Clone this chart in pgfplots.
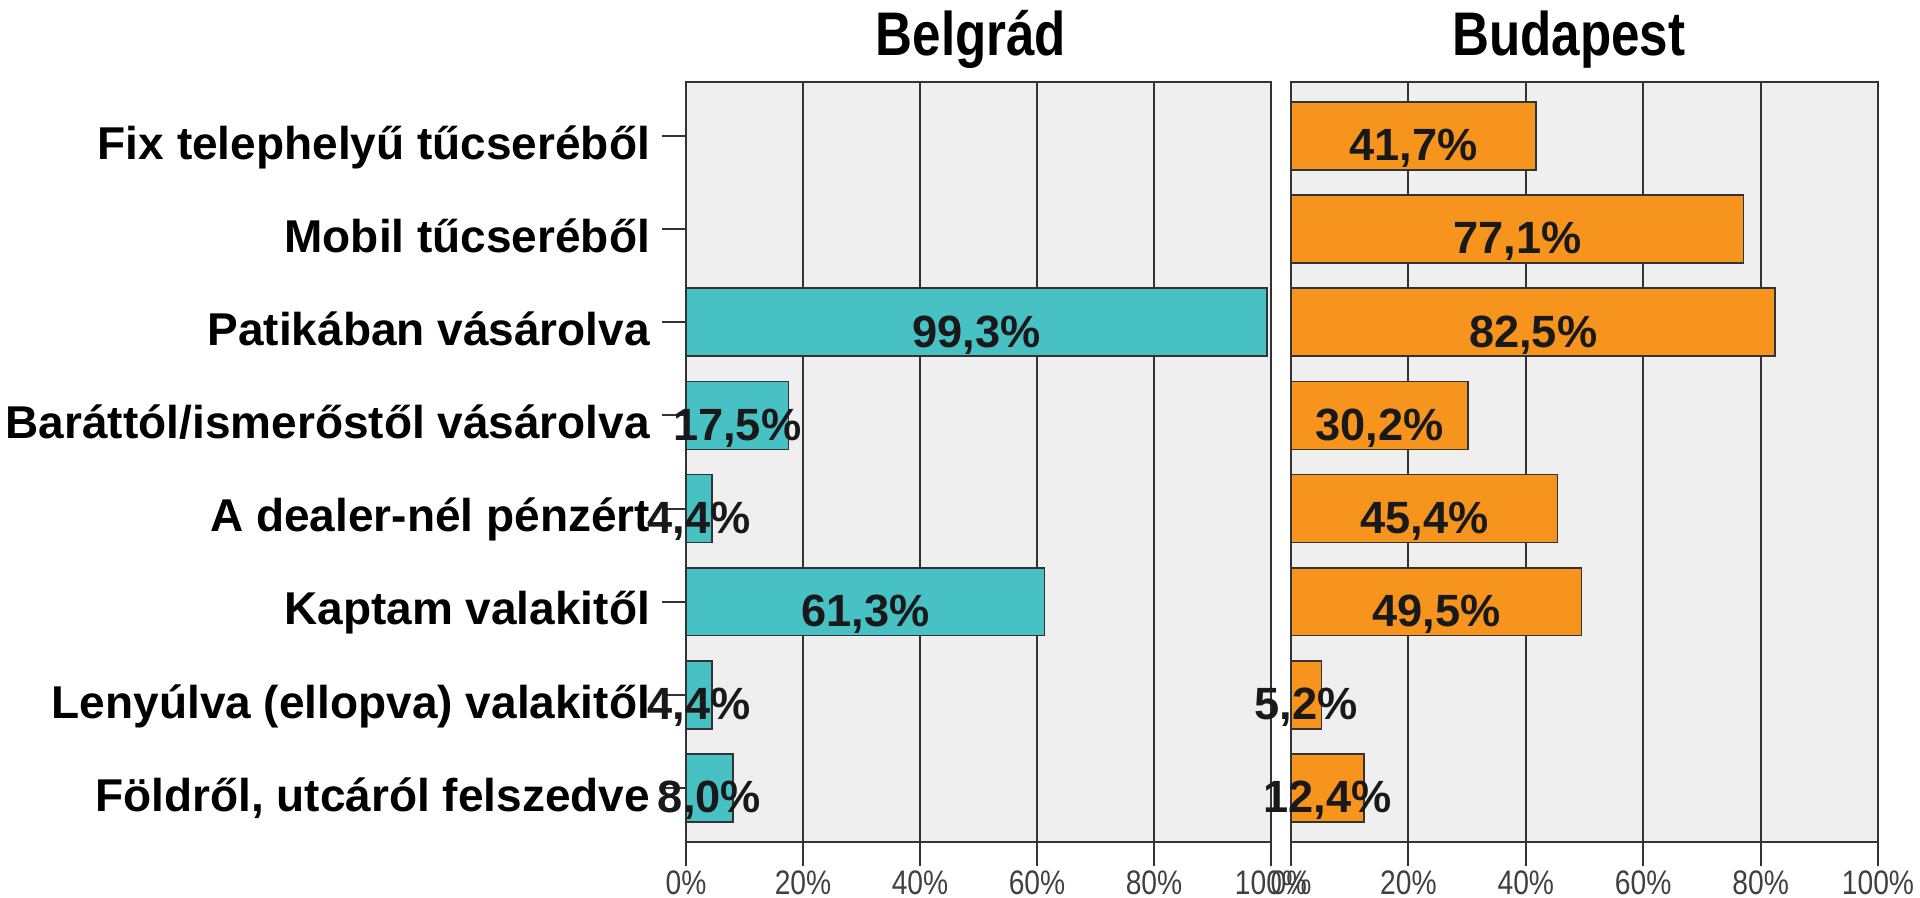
\documentclass[border=0pt]{standalone}
\usepackage{fontspec}
\setmainfont{Liberation Sans}
\newfontfamily\narrowfont[FakeStretch=0.83]{Liberation Sans}
\usepackage{pgfplots}
\pgfplotsset{compat=1.18}
\usepackage{pgfplotstable}

\definecolor{tealbar}{HTML}{48C1C4}
\definecolor{orangebar}{HTML}{F7941E}
\definecolor{panelbg}{HTML}{EFEFEF}
\definecolor{frame}{HTML}{333333}

% y = row (0 = top row)
\pgfplotstableread{
y val
2 99.3
3 17.5
4 4.4
5 61.3
6 4.4
7 8.0
}\belgrad
\pgfplotstableread{
y val
0 41.7
1 77.1
2 82.5
3 30.2
4 45.4
5 49.5
6 5.2
7 12.4
}\budapest

\pgfplotsset{
  panel/.style={
    scale only axis, height=190pt,
    xmin=0, xmax=100, ymin=-0.58, ymax=7.58, y dir=reverse,
    xtick={0,20,...,100},
    xticklabel={\pgfmathprintnumber{\tick}\%},
    /pgf/number format/assume math mode=true,
    xmajorgrids, grid style={frame, line width=0.5pt},
    axis line style={frame, line width=0.55pt},
    axis background/.style={fill=panelbg},
    tick align=outside, xtick pos=left, major tick length=6pt,
    tick style={frame, line width=0.5pt},
    xticklabel style={font=\narrowfont\fontsize{8.5}{10}\selectfont, text=black!75,
      anchor=north, inner sep=0pt, yshift=-1pt},
    title style={font=\narrowfont\bfseries\fontsize{15.4}{17}\selectfont,
      at={(0.5,1)}, anchor=base, yshift=0.6pt},
    clip=false,
  },
  barlabels/.style={
    draw=none, mark=none, point meta=explicit,
    nodes near coords={\pgfmathprintnumber[fixed, fixed zerofill, precision=1, use comma]{\pgfplotspointmeta}\%},
    every node near coord/.style={font=\bfseries\fontsize{11.3}{13}\selectfont,
      text=black!90, anchor=base, yshift=-6.2pt, inner sep=0pt},
  },
}

\begin{document}
\begin{tikzpicture}
\path[use as bounding box] (0,0) rectangle (480pt,224.5pt);

\begin{axis}[
  panel,
  width=146.25pt,
  at={(171.5pt,14pt)}, anchor=south west,
  title={Belgrád}, title style={xshift=-1.9pt},
  ytick={0,...,7},
  ytick pos=left,
  yticklabels={Fix telephelyű tűcseréből, Mobil tűcseréből, Patikában vásárolva,
    Baráttól/ismerőstől vásárolva, A dealer-nél pénzért, Kaptam valakitől,
    Lenyúlva (ellopva) valakitől, {Földről, utcáról felszedve}},
  yticklabel style={font=\bfseries\fontsize{11.5}{13}\selectfont, anchor=base east,
    yshift=-5.8pt, inner sep=0pt, xshift=-2.8pt},
]
\addplot[xbar, bar width=0.73, fill=tealbar, draw=frame, line width=0.4pt]
  table[x=val, y=y] {\belgrad};
\addplot[barlabels] table[x expr=\thisrow{val}/2, y=y, meta=val] {\belgrad};
\end{axis}

\begin{axis}[
  panel,
  width=146.75pt,
  at={(322.75pt,14pt)}, anchor=south west,
  title={Budapest}, title style={xshift=-3.9pt},
  ytick=\empty,
]
\addplot[xbar, bar width=0.73, fill=orangebar, draw=frame, line width=0.4pt]
  table[x=val, y=y] {\budapest};
\addplot[barlabels] table[x expr=\thisrow{val}/2, y=y, meta=val] {\budapest};
\end{axis}
\end{tikzpicture}
\end{document}
